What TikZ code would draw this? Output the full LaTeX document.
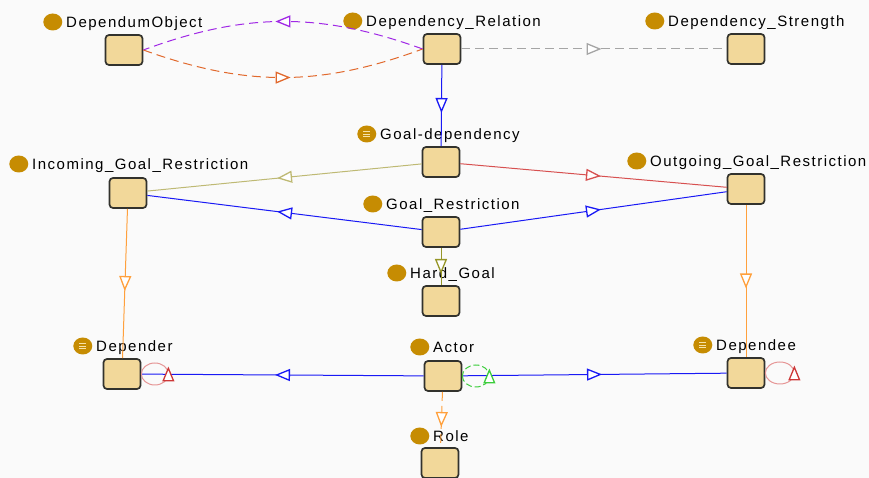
\documentclass[tikz,border=0pt]{standalone}
\usepackage{fontspec}
\usepackage{tikz}
\usetikzlibrary{arrows.meta, positioning, decorations.markings, shapes.geometric}
\newfontfamily\lblfont{Liberation Sans}[LetterSpace=10]

\definecolor{boxfill}{RGB}{242,216,154}
\definecolor{boxline}{RGB}{50,50,45}
\definecolor{icongold}{RGB}{198,140,2}
\definecolor{iconbar}{RGB}{246,226,170}
\definecolor{lnpurple}{RGB}{160,40,230}
\definecolor{lnorangered}{RGB}{225,105,45}
\definecolor{lngray}{RGB}{165,165,165}
\definecolor{lnblue}{RGB}{25,25,245}
\definecolor{lnkhaki}{RGB}{190,185,115}
\definecolor{lnolive}{RGB}{150,150,40}
\definecolor{lnred}{RGB}{215,80,80}
\definecolor{lnorange}{RGB}{255,160,60}
\definecolor{lnloop}{RGB}{230,150,150}
\definecolor{tipred}{RGB}{205,55,55}
\definecolor{lngreen}{RGB}{60,205,60}

\tikzset{
    cls/.style={draw=boxline, fill=boxfill, line width=1.7pt, rounded corners=3.5pt,
        minimum width=37pt, minimum height=30pt, inner sep=0pt},
    icon/.style={ellipse, fill=icongold, minimum width=19pt, minimum height=17pt, inner sep=0pt},
    eqicon/.style={icon, path picture={
        \foreach \dy in {-2.5,0,2.5}
            \draw[iconbar, line width=0.9pt]
                ([xshift=-3.5pt,yshift=\dy pt]path picture bounding box.center) -- +(7pt,0);
    }},
    clsname/.style={anchor=west, inner sep=0pt, text height=11pt, text depth=0pt,
        font=\lblfont\fontsize{15}{18}\selectfont,
        label={[icon, label distance=3.5pt]left:}},
    eqclsname/.style={anchor=west, inner sep=0pt, text height=11pt, text depth=0pt,
        font=\lblfont\fontsize{15}{18}\selectfont,
        label={[eqicon, label distance=3.5pt]left:}},
    midtip/.style={postaction={decorate}, decoration={markings,
        mark=at position #1 with {\arrow[xshift=7.5pt]{Triangle[length=15pt, width=12pt, fill=white, line width=1.3pt]}}}},
    midtip/.default=0.5,
    link/.style={line width=1pt, midtip},
    dashlink/.style={link, dash pattern=on 9pt off 5pt},
    selfloop/.style={line width=1pt, postaction={decorate}, decoration={markings,
        mark=at position 0.5 with {\arrow[xshift=7.5pt]{Triangle[length=15pt, width=12pt, fill=white, line width=1.3pt, color=#1]}}}},
}

\begin{document}
\begin{tikzpicture}[x=1pt, y=1pt]
    \fill[white!98!black] (0,0) rectangle (869,478);
    \useasboundingbox (0,0) rectangle (869,478);

    % 类节点
    \node[cls] (dobj)  at (124,428) {};
    \node[cls] (drel)  at (442,429) {};
    \node[cls] (dstr)  at (746,429) {};
    \node[cls] (gdep)  at (441,316) {};
    \node[cls] (inc)   at (128,285) {};
    \node[cls] (out)   at (746,289) {};
    \node[cls] (grest) at (441,246) {};
    \node[cls] (hard)  at (441,177) {};
    \node[cls] (depr)  at (122,104) {};
    \node[cls] (actor) at (443,102) {};
    \node[cls] (role)  at (440,15)  {};
    \node[cls] (depe)  at (746,105) {};

    % 类名
    \node[clsname]   (dobj-name)  at (66,456)  {DependumObject};
    \node[clsname]   (drel-name)  at (366,457) {Dependency\_Relation};
    \node[clsname]   (dstr-name)  at (668,457) {Dependency\_Strength};
    \node[eqclsname] (gdep-name)  at (380,344) {Goal-dependency};
    \node[clsname]   (inc-name)   at (32,314)  {Incoming\_Goal\_Restriction};
    \node[clsname]   (out-name)   at (650,317) {Outgoing\_Goal\_Restriction};
    \node[clsname]   (grest-name) at (386,274) {Goal\_Restriction};
    \node[clsname]   (hard-name)  at (410,205) {Hard\_Goal};
    \node[eqclsname] (depr-name)  at (96,132)  {Depender};
    \node[clsname]   (actor-name) at (433,131) {Actor};
    \node[clsname]   (role-name)  at (433,42)  {Role};
    \node[eqclsname] (depe-name)  at (716,133) {Dependee};

    % 关系
    \draw[dashlink, lnpurple]    (drel.west) to[bend right=20] (dobj.east);
    \draw[dashlink, lnorangered] (dobj.east) to[bend right=20] (drel.west);
    \draw[dashlink, lngray]      (drel) -- (dstr);
    \draw[link, lnblue]          (drel) -- (gdep);
    \draw[link, lnkhaki]         (gdep) -- (inc);
    \draw[link, lnred]           (gdep) -- (out);
    \draw[link, lnblue]          (grest) -- (inc);
    \draw[link, lnblue]          (grest) -- (out);
    \draw[link, lnolive]         (grest) -- (hard);
    \draw[link, lnorange]        (inc) -- (depr);
    \draw[link, lnorange]        (out) -- (depe);
    \draw[link, lnblue]          (actor) -- (depr);
    \draw[link, lnblue]          (actor) -- (depe);
    \draw[dashlink, lnorange]    (actor) -- (role);

    % 自环
    \draw[selfloop=tipred, lnloop]
        (depr.east) arc[start angle=180, end angle=540, x radius=13.5, y radius=11];
    \draw[selfloop=lngreen, lngreen, dash pattern=on 6pt off 3pt]
        (actor.east) arc[start angle=180, end angle=540, x radius=13.5, y radius=11];
    \draw[selfloop=tipred, lnloop]
        (depe.east) arc[start angle=180, end angle=540, x radius=14.5, y radius=11];
\end{tikzpicture}
\end{document}
